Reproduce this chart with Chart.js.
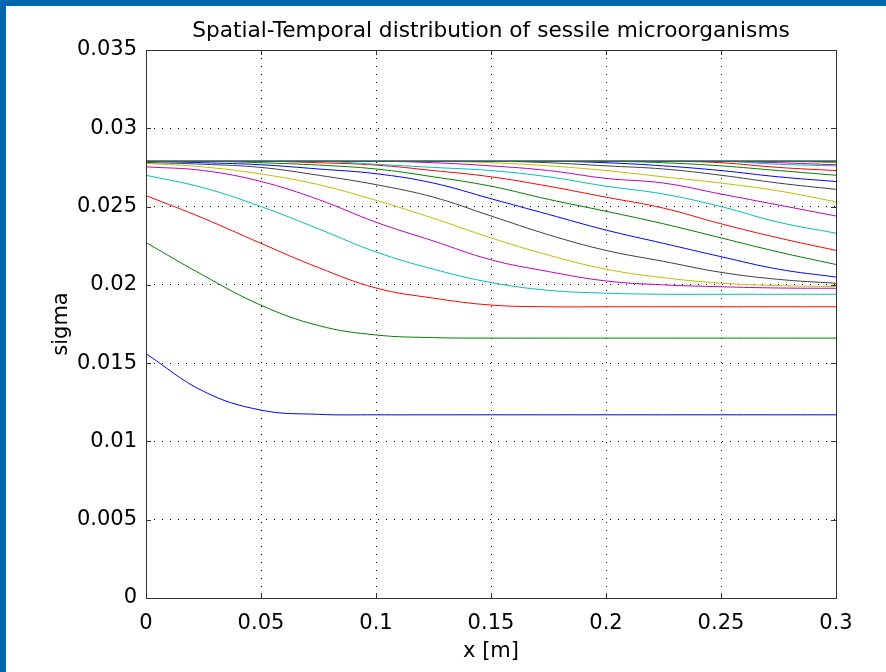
<!DOCTYPE html>
<html>
<head>
<meta charset="utf-8">
<script src="https://cdn.jsdelivr.net/npm/chart.js@4.4.1/dist/chart.umd.min.js"></script>
<style>
  html, body { margin: 0; padding: 0; background: #0466ac; }
  #wrap { position: absolute; left: 6px; top: 6px; width: 880px; height: 666px; background: #fff; }
</style>
</head>
<body>
<div id="wrap"><canvas id="myChart"></canvas></div>
<script>
// x positions [m]
var xs = [0, 0.025, 0.05, 0.075, 0.1, 0.125, 0.15, 0.175, 0.2, 0.225, 0.25, 0.275, 0.3];

// sigma profiles, one per time step
var s01 = [0.0156, 0.0132, 0.0120, 0.01173, 0.0117, 0.0117, 0.0117, 0.0117, 0.0117, 0.0117, 0.0117, 0.0117, 0.0117];
var s02 = [0.0227, 0.0206, 0.0187, 0.0174, 0.0168, 0.01663, 0.0166, 0.0166, 0.0166, 0.0166, 0.0166, 0.0166, 0.0166];
var s03 = [0.0257, 0.02425, 0.02265, 0.0211, 0.0198, 0.01915, 0.01871, 0.0186, 0.0186, 0.0186, 0.0186, 0.0186, 0.0186];
var s04 = [0.0270, 0.0262, 0.0250, 0.02358, 0.0221, 0.0210, 0.02015, 0.01965, 0.01947, 0.0194, 0.0194, 0.0194, 0.0194];
var s05 = [0.02754, 0.0273, 0.0266, 0.02545, 0.0240, 0.0228, 0.0216, 0.02085, 0.02025, 0.0200, 0.01988, 0.0198, 0.01978];
var s06 = [0.02776, 0.02753, 0.02708, 0.0264, 0.0254, 0.02425, 0.0230, 0.0219, 0.0210, 0.02046, 0.02011, 0.01995, 0.01989];
var s07 = [0.02782, 0.0277, 0.0275, 0.0270, 0.0264, 0.0256, 0.0244, 0.0232, 0.0222, 0.0215, 0.0208, 0.02035, 0.0201];
var s08 = [0.0279, 0.0278, 0.02767, 0.0274, 0.0271, 0.0265, 0.0255, 0.0245, 0.0235, 0.02265, 0.0218, 0.0210, 0.0205];
var s09 = [0.0279, 0.0279, 0.0278, 0.02765, 0.0274, 0.0269, 0.0263, 0.02546, 0.0247, 0.0239, 0.0230, 0.0221, 0.0213];
var s10 = [0.0279, 0.0279, 0.0279, 0.0278, 0.02765, 0.0273, 0.0269, 0.0263, 0.0256, 0.0249, 0.0239, 0.0230, 0.0222];
var s11 = [0.0279, 0.0279, 0.0279, 0.0279, 0.0277, 0.0275, 0.0273, 0.0269, 0.0263, 0.0258, 0.0250, 0.0240, 0.0233];
var s12 = [0.0279, 0.0279, 0.0279, 0.0279, 0.0279, 0.0278, 0.0276, 0.0273, 0.0268, 0.0265, 0.0258, 0.0251, 0.0244];
var s13 = [0.0279, 0.0279, 0.0279, 0.0279, 0.0279, 0.0279, 0.0278, 0.0276, 0.0273, 0.0269, 0.0265, 0.0260, 0.0253];
var s14 = [0.0279, 0.0279, 0.0279, 0.0279, 0.0279, 0.0279, 0.0279, 0.0278, 0.0276, 0.0274, 0.0270, 0.0265, 0.0261];
var s15 = [0.0279, 0.0279, 0.0279, 0.0279, 0.0279, 0.0279, 0.0279, 0.0279, 0.0278, 0.0276, 0.0273, 0.0269, 0.0266];
var s16 = [0.0279, 0.0279, 0.0279, 0.0279, 0.0279, 0.0279, 0.0279, 0.0279, 0.0279, 0.0278, 0.0276, 0.0273, 0.0270];
var s17 = [0.0279, 0.0279, 0.0279, 0.0279, 0.0279, 0.0279, 0.0279, 0.0279, 0.0279, 0.0279, 0.0278, 0.0275, 0.0273];
var s18 = [0.0279, 0.0279, 0.0279, 0.0279, 0.0279, 0.0279, 0.0279, 0.0279, 0.0279, 0.0279, 0.0279, 0.0277, 0.0276];
var s19 = [0.0279, 0.0279, 0.0279, 0.0279, 0.0279, 0.0279, 0.0279, 0.0279, 0.0279, 0.0279, 0.0279, 0.0278, 0.02767];
var s20 = [0.0279, 0.0279, 0.0279, 0.0279, 0.0279, 0.0279, 0.0279, 0.0279, 0.0279, 0.0279, 0.0279, 0.0279, 0.0278];
var s21 = [0.0279, 0.0279, 0.0279, 0.0279, 0.0279, 0.0279, 0.0279, 0.0279, 0.0279, 0.0279, 0.0279, 0.0279, 0.02785];
var s22 = [0.0279, 0.0279, 0.0279, 0.0279, 0.0279, 0.0279, 0.0279, 0.0279, 0.0279, 0.0279, 0.0279, 0.0279, 0.0279];
var s23 = [0.0279, 0.0279, 0.0279, 0.0279, 0.0279, 0.0279, 0.0279, 0.0279, 0.0279, 0.0279, 0.0279, 0.0279, 0.0279];
var s24 = [0.0279, 0.0279, 0.0279, 0.0279, 0.0279, 0.0279, 0.0279, 0.0279, 0.0279, 0.0279, 0.0279, 0.0279, 0.0279];
var s25 = [0.02793, 0.02793, 0.02793, 0.02793, 0.02793, 0.02793, 0.02793, 0.02793, 0.02793, 0.02793, 0.02793, 0.02793, 0.02793];

var series = [s01, s02, s03, s04, s05, s06, s07, s08, s09, s10, s11, s12, s13,
              s14, s15, s16, s17, s18, s19, s20, s21, s22, s23, s24, s25];

var xTicks = [0, 0.05, 0.1, 0.15, 0.2, 0.25, 0.3];
var yTicks = [0, 0.005, 0.01, 0.015, 0.02, 0.025, 0.03, 0.035];

// matlab-ish colour order
var colors = ['#0000ff', '#008000', '#ff0000', '#00bfbf', '#bf00bf', '#bfbf00', '#404040'];

var datasets = series.map(function (s, i) {
    return {
        data: s.map(function (v, j) { return { x: xs[j], y: v }; }),
        borderColor: colors[i % colors.length],
        borderWidth: 1,
        pointRadius: 0,
        tension: 0.4,
        fill: false,
        order: series.length - i   // later curves on top
    };
});

var fontFam = '"DejaVu Sans", Verdana, sans-serif';

// box around the plot + inward tick marks
var boxPlugin = {
    id: 'box',
    afterDatasetsDraw: function (chart) {
        var c = chart.ctx, a = chart.chartArea;
        var sx = chart.scales.x, sy = chart.scales.y;
        c.save();
        c.strokeStyle = '#333';
        c.lineWidth = 1;
        c.setLineDash([]);
        c.beginPath();
        xTicks.forEach(function (t) {
            var px = Math.round(sx.getPixelForValue(t)) + 0.5;
            c.moveTo(px, a.bottom); c.lineTo(px, a.bottom - 5);
            c.moveTo(px, a.top); c.lineTo(px, a.top + 5);
        });
        yTicks.forEach(function (t) {
            var py = Math.round(sy.getPixelForValue(t)) + 0.5;
            c.moveTo(a.left, py); c.lineTo(a.left + 5, py);
            c.moveTo(a.right, py); c.lineTo(a.right - 5, py);
        });
        c.stroke();
        c.strokeRect(Math.round(a.left) + 0.5, Math.round(a.top) + 0.5,
                     Math.round(a.right - a.left), Math.round(a.bottom - a.top));
        c.restore();
    }
};

var ctx = document.getElementById('myChart').getContext('2d');
var myChart = new Chart(ctx, {
    type: 'line',
    data: { datasets: datasets },
    plugins: [boxPlugin],
    options: {
        responsive: true,
        maintainAspectRatio: false,
        animation: false,
        layout: { padding: { left: 0, right: 50, top: 0, bottom: 0 } },
        plugins: {
            legend: { display: false },
            tooltip: { enabled: false },
            title: {
                display: true,
                fullSize: false,
                text: 'Spatial-Temporal distribution of sessile microorganisms',
                color: '#000',
                font: { family: fontFam, size: 21.7, weight: 'normal', lineHeight: 1 },
                padding: { top: 15, bottom: 7.3 }
            }
        },
        scales: {
            x: {
                type: 'linear',
                min: 0,
                max: 0.3,
                afterFit: function (s) { s.height = 74; },
                afterBuildTicks: function (s) { s.ticks = xTicks.map(function (v) { return { value: v }; }); },
                ticks: {
                    color: '#000',
                    padding: 13,
                    maxRotation: 0,
                    font: { family: fontFam, size: 21 },
                    callback: function (v) { return String(+v.toFixed(3)); }
                },
                grid: { color: '#000', drawTicks: false },
                border: { display: false, dash: [1, 7] },
                title: {
                    display: true,
                    text: 'x [m]',
                    color: '#000',
                    font: { family: fontFam, size: 21 },
                    padding: { top: 7.4, bottom: 7.4 }
                }
            },
            y: {
                min: 0,
                max: 0.035,
                afterFit: function (s) { s.width = 140; },
                afterBuildTicks: function (s) { s.ticks = yTicks.map(function (v) { return { value: v }; }); },
                ticks: {
                    color: '#000',
                    padding: 9,
                    font: { family: fontFam, size: 21 },
                    callback: function (v) { return String(+v.toFixed(3)); }
                },
                grid: { color: '#000', drawTicks: false },
                border: { display: false, dash: [1, 7] },
                title: {
                    display: true,
                    text: 'sigma',
                    color: '#000',
                    font: { family: fontFam, size: 21 },
                    padding: { top: 43.4, bottom: 43.4 }
                }
            }
        }
    }
});
</script>
</body>
</html>
